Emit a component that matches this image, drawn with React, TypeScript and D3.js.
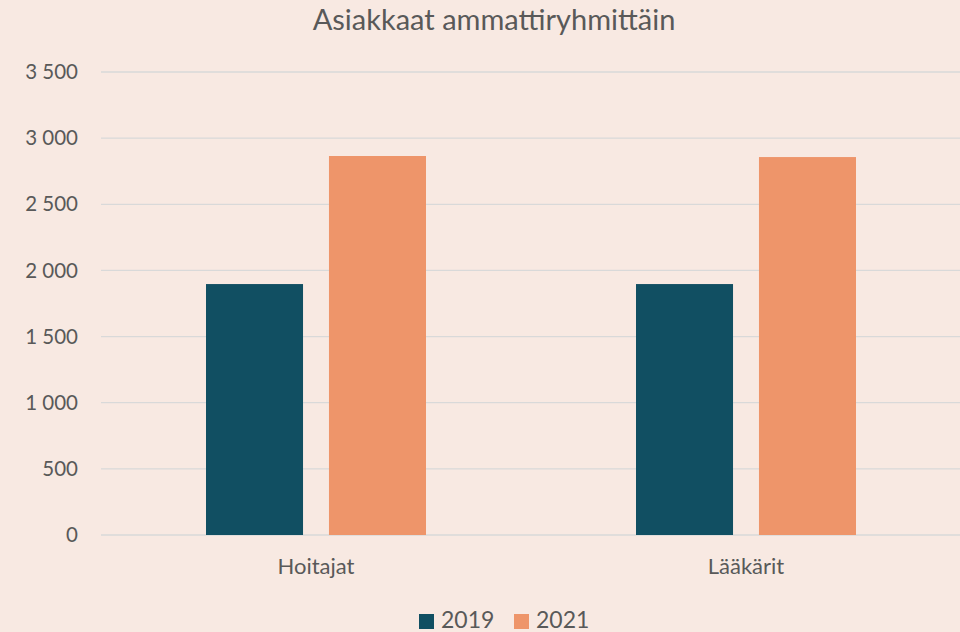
import React from 'react'
import * as d3 from 'd3'

// chart data
const categories = ['Hoitajat', 'Lääkärit']
const seriesNames = ['2019', '2021']
const values2019 = [1897, 1897]
const values2021 = [2865, 2857]
const yTicks = [0, 500, 1000, 1500, 2000, 2500, 3000, 3500]
const title = 'Asiakkaat ammattiryhmittäin'

const W = 960
const H = 632
const colors = ['#114f62', '#ee956a']
const font = 'Lato, "Open Sans", sans-serif'
const textColor = '#595959'

const fi = d3.formatLocale({ decimal: ',', thousands: ' ', grouping: [3], currency: ['', ' €'] })
const fmt = fi.format(',')

export default function App() {
  const margin = { top: 72, right: -1, bottom: 97, left: 101 }
  const series = [values2019, values2021]

  const y = d3.scaleLinear().domain([0, 3500]).range([H - margin.bottom, margin.top])
  const x0 = d3.scaleBand<string>().domain(categories).range([margin.left, W - margin.right])
  const groupW = 220
  const x1 = d3.scaleBand<string>().domain(seriesNames).range([0, groupW]).paddingInner(0.211)

  // bars, grouped by category
  const bars = categories.map((cat, ci) => {
    const gx = (x0(cat) as number) + x0.bandwidth() / 2 - groupW / 2
    return seriesNames.map((s, si) => {
      const v = series[si][ci]
      return (
        <rect key={cat + s}
          x={gx + (x1(s) as number)}
          y={y(v)}
          width={x1.bandwidth()}
          height={y(0) - y(v)}
          fill={colors[si]}
        />
      )
    })
  })

  const legendX = [419, 514]

  return (
    <svg width={W} height={H} style={{ position: 'fixed', left: 0, top: 0 }} fontFamily={font}>
      <rect width={W} height={H} fill="#f8e9e2" />
      <text x={494} y={30} textAnchor="middle" fontSize={29} fill={textColor}>{title}</text>

      {/* gridlines and y labels */}
      <g>
        {yTicks.map(t => (
          <g key={t}>
            <line x1={margin.left} x2={W} y1={y(t)} y2={y(t)} stroke="#d9d9d9" strokeWidth={1.3} />
            <text x={78} y={y(t)} dy="0.35em" textAnchor="end" fontSize={20.5} fill={textColor}>{fmt(t)}</text>
          </g>
        ))}
      </g>

      <g>{bars}</g>

      {/* category labels */}
      {categories.map(cat => (
        <text key={cat} x={(x0(cat) as number) + x0.bandwidth() / 2} y={574} textAnchor="middle" fontSize={22} fill={textColor}>{cat}</text>
      ))}

      {/* legend */}
      {seriesNames.map((s, i) => (
        <g key={s} transform={`translate(${legendX[i]},614)`}>
          <rect width={15} height={15} fill={colors[i]} />
          <text x={22} y={14} fontSize={23} fill={textColor}>{s}</text>
        </g>
      ))}
    </svg>
  )
}
